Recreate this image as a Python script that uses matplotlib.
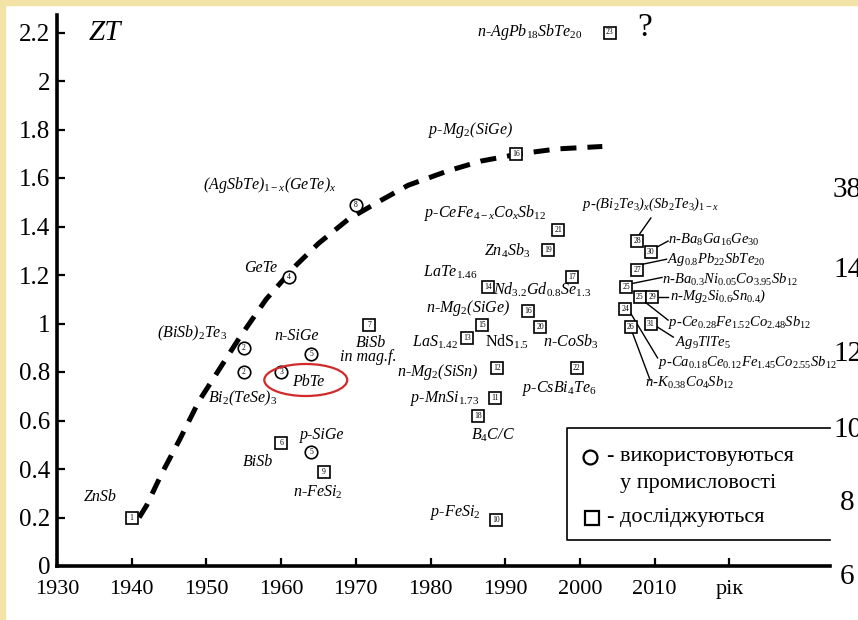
import matplotlib

matplotlib.use("Agg")
import matplotlib.pyplot as plt
from matplotlib.patches import Ellipse, Rectangle

plt.rcParams["font.family"] = ["Liberation Serif", "DejaVu Serif"]
plt.rcParams["mathtext.fontset"] = "custom"
plt.rcParams["mathtext.rm"] = "Liberation Serif"
plt.rcParams["mathtext.it"] = "Liberation Serif:italic"

# загальна тенденція ZT
CURVE_YEARS = [1941, 1942, 1944, 1946.4, 1949, 1951.7, 1954.4, 1958, 1962, 1965,
               1969, 1973.5, 1977, 1982.4, 1986.8, 1992, 1997, 2003]
CURVE_ZT = [0.2, 0.25, 0.38, 0.52, 0.68, 0.81, 0.94, 1.10, 1.24, 1.33,
            1.43, 1.51, 1.57, 1.63, 1.67, 1.70, 1.72, 1.73]

# матеріали, що використовуються у промисловості (кружки)
USED_YEARS = [1955, 1955, 1960, 1964, 1961, 1970, 1964]
USED_ZT = [0.9, 0.8, 0.8, 0.875, 1.19, 1.49, 0.47]
USED_NUM = ["2", "2", "3", "5", "4", "8", "5"]

# матеріали, що досліджуються (квадрати)
RES_YEARS = [1940, 1960, 1965.7, 1971.8, 1991.4, 2004, 1997.1, 1995.7, 1987.7, 1998.9,
             1993.1, 1986.9, 1994.7, 1984.9, 1988.9, 1999.6, 1988.6, 1986.4, 1988.8,
             2007.7, 2009.5, 2007.7, 2006.2, 2008.0, 2009.7, 2006.1, 2009.5, 2006.8]
RES_ZT = [0.2, 0.507, 0.388, 0.994, 1.70, 2.2, 1.386, 1.303, 1.15, 1.19,
          1.05, 0.994, 0.986, 0.94, 0.816, 0.816, 0.693, 0.62, 0.19,
          1.34, 1.295, 1.22, 1.15, 1.11, 1.11, 1.06, 1.00, 0.985]
RES_NUM = ["1", "6", "9", "7", "16", "23", "21", "19", "14", "17",
           "16", "15", "20", "13", "12", "22", "11", "18", "10",
           "28", "30", "27", "25", "25", "29", "24", "31", "26"]

# підписи: текст, рік, ZT, вирівнювання, курсив
LABELS = [
    ("ZnSb", 1935.8, 0.285, "center", True),
    ("(BiSb)$_2$Te$_3$", 1948.1, 0.96, "center", True),
    ("Bi$_2$(TeSe)$_3$", 1954.9, 0.69, "center", True),
    ("PbTe", 1963.6, 0.76, "center", True),
    ("n-SiGe", 1962.1, 0.95, "center", True),
    ("GeTe", 1957.2, 1.23, "center", True),
    ("(AgSbTe)$_{1-x}$(GeTe)$_x$", 1958.5, 1.57, "center", True),
    ("BiSb", 1956.9, 0.43, "center", True),
    ("p-SiGe", 1965.5, 0.54, "center", True),
    ("n-FeSi$_2$", 1964.9, 0.305, "center", True),
    ("BiSb", 1972.0, 0.92, "center", True),
    ("in mag.f.", 1971.6, 0.86, "center", True),
    ("p-Mg$_2$(SiGe)", 1985.3, 1.80, "center", True),
    ("n-AgPb$_{18}$SbTe$_{20}$", 1993.3, 2.2, "center", True),
    ("p-CeFe$_{4-x}$Co$_x$Sb$_{12}$", 1987.3, 1.456, "center", True),
    ("Zn$_4$Sb$_3$", 1990.2, 1.30, "center", True),
    ("LaTe$_{1.46}$", 1982.6, 1.21, "center", True),
    ("Nd$_{3.2}$Gd$_{0.8}$Se$_{1.3}$", 1995.0, 1.14, "center", True),
    ("n-Mg$_2$(SiGe)", 1985.0, 1.064, "center", True),
    ("LaS$_{1.42}$", 1980.6, 0.924, "center", True),
    ("NdS$_{1.5}$", 1990.2, 0.924, "center", False),
    ("n-CoSb$_3$", 1998.7, 0.924, "center", True),
    ("n-Mg$_2$(SiSn)", 1980.9, 0.80, "center", True),
    ("p-CsBi$_4$Te$_6$", 1997.3, 0.734, "center", True),
    ("p-MnSi$_{1.73}$", 1981.9, 0.69, "center", True),
    ("B$_4$C/C", 1988.4, 0.54, "center", True),
    ("p-FeSi$_2$", 1983.3, 0.22, "center", True),
]

# підписи праворуч від щільної групи квадратів
CLUSTER_LABELS = [
    ("p-(Bi$_2$Te$_3$)$_x$(Sb$_2$Te$_3$)$_{1-x}$", 2000.3, 1.49),
    ("n-Ba$_8$Ga$_{16}$Ge$_{30}$", 2011.8, 1.345),
    ("Ag$_{0.8}$Pb$_{22}$SbTe$_{20}$", 2011.7, 1.265),
    ("n-Ba$_{0.3}$Ni$_{0.05}$Co$_{3.95}$Sb$_{12}$", 2011.0, 1.18),
    ("n-Mg$_2$Si$_{0.6}$Sn$_{0.4}$)", 2012.0, 1.11),
    ("p-Ce$_{0.28}$Fe$_{1.52}$Co$_{2.48}$Sb$_{12}$", 2011.8, 1.006),
    ("Ag$_9$TlTe$_5$", 2012.7, 0.92),
    ("p-Ca$_{0.18}$Ce$_{0.12}$Fe$_{1.45}$Co$_{2.55}$Sb$_{12}$", 2010.5, 0.84),
    ("n-K$_{0.38}$Co$_4$Sb$_{12}$", 2008.7, 0.755),
]

# виноски від підписів до квадратів
LEADERS = [
    ((2009.5, 2007.9), (1.435, 1.365)),
    ((2011.8, 2010.0), (1.34, 1.31)),
    ((2011.6, 2008.5), (1.265, 1.245)),
    ((2011.0, 2007.0), (1.19, 1.165)),
    ((2010.6, 2011.8), (1.11, 1.11)),
    ((2008.7, 2011.8), (1.089, 1.014)),
    ((2010.4, 2012.5), (0.985, 0.944)),
    ((2006.7, 2010.4), (1.047, 0.858)),
    ((2006.9, 2009.4), (0.973, 0.767)),
]

X_TICKS = [1930, 1940, 1950, 1960, 1970, 1980, 1990, 2000, 2010, 2020]
X_TICK_LABELS = ["1930", "1940", "1950", "1960", "1970", "1980", "1990", "2000", "2010", "рік"]
Y_TICKS = [0, 0.2, 0.4, 0.6, 0.8, 1.0, 1.2, 1.4, 1.6, 1.8, 2.0, 2.2]
Y_TICK_LABELS = ["0", "0.2", "0.4", "0.6", "0.8", "1", "1.2", "1.4", "1.6", "1.8", "2", "2.2"]

LEGEND_LINES = ["- використовуються", "у промисловості", "- досліджуються"]

# числа з сусідньої сторінки біля правого краю
EDGE_NUMBERS = ["38", "14", "12", "10", "8", "6"]
EDGE_X_PX = [833, 833, 833, 833, 840, 840]
EDGE_Y_PX = [190, 270, 354, 430, 503, 577]

W, H = 858, 620
CREAM = "#f3e3a6"


def draw_markers(ax, xs, ys, nums, marker, size):
    ax.plot(xs, ys, linestyle="none", marker=marker, ms=size, mfc="white",
            mec="black", mew=1.2, zorder=4)
    for x, y, n in zip(xs, ys, nums):
        ax.text(x, y, n, ha="center", va="center", fontsize=5.5, zorder=5)


def main() -> None:
    fig = plt.figure(figsize=(W / 100, H / 100), dpi=100, facecolor="white")

    # жовта смуга зверху та зліва
    fig.patches.append(Rectangle((0, 1 - 5 / H), 1, 5 / H, transform=fig.transFigure,
                                 color=CREAM, zorder=0))
    fig.patches.append(Rectangle((0, 0), 5 / W, 1, transform=fig.transFigure,
                                 color=CREAM, zorder=0))

    left, right, bottom, top = 57, 830, 566, 15
    ax = fig.add_axes([left / W, (H - bottom) / H, (right - left) / W, (bottom - top) / H])
    ax.set_xlim(1930, 1930 + (right - left) / 7.47)
    ax.set_ylim(0, (bottom - top) / 242.5)
    ax.set_facecolor("none")

    for side in ("top", "right"):
        ax.spines[side].set_visible(False)
    for side in ("left", "bottom"):
        ax.spines[side].set_linewidth(2.6)

    ax.set_xticks(X_TICKS)
    ax.set_xticklabels(X_TICK_LABELS)
    ax.set_yticks(Y_TICKS)
    ax.set_yticklabels(Y_TICK_LABELS)
    ax.tick_params(axis="x", direction="in", length=6, width=1.6, pad=10, labelsize=16)
    ax.tick_params(axis="y", direction="in", length=6, width=1.6, pad=5, labelsize=18)

    ax.text(1934.2, 2.2, "ZT", fontsize=21, style="italic", va="center", ha="left")

    ax.plot(CURVE_YEARS, CURVE_ZT, color="black", lw=3.6, dashes=(3.2, 2.2),
            solid_capstyle="butt", zorder=3)

    draw_markers(ax, USED_YEARS, USED_ZT, USED_NUM, "o", 9)
    draw_markers(ax, RES_YEARS, RES_ZT, RES_NUM, "s", 8.5)

    for xs, ys in LEADERS:
        ax.plot(xs, ys, color="black", lw=1.0, zorder=3)

    for text, x, y, ha, italic in LABELS:
        ax.text(x, y, text, ha=ha, va="center", fontsize=11.5,
                style="italic" if italic else "normal", zorder=6)

    for text, x, y in CLUSTER_LABELS:
        ax.text(x, y, text, ha="left", va="center", fontsize=10.5,
                style="italic", zorder=6)

    ax.text(2008.7, 2.22, "?", fontsize=24, ha="center", va="center")

    # виділення PbTe
    ax.add_patch(Ellipse((1963.3, 0.767), 11.1, 0.132, fill=False,
                         edgecolor="#d22a2a", lw=1.6, zorder=6))

    # легенда
    box_l, box_t, box_b = 1998.3, 0.569, 0.107
    box_r = ax.get_xlim()[1]
    ax.plot([box_r, box_l, box_l, box_r], [box_t, box_t, box_b, box_b],
            color="black", lw=1.2, clip_on=False, zorder=5)
    ax.plot([2001.4], [0.45], marker="o", ms=10, mfc="white", mec="black", mew=1.6)
    ax.plot([2001.6], [0.198], marker="s", ms=10, mfc="white", mec="black", mew=1.6)
    ax.text(2003.6, 0.45, LEGEND_LINES[0], fontsize=16, va="center", ha="left")
    ax.text(2005.4, 0.342, LEGEND_LINES[1], fontsize=16, va="center", ha="left")
    ax.text(2003.6, 0.198, LEGEND_LINES[2], fontsize=16, va="center", ha="left")

    for s, xpx, ypx in zip(EDGE_NUMBERS, EDGE_X_PX, EDGE_Y_PX):
        fig.text(xpx / W, 1 - ypx / H, s, fontsize=21, va="center", ha="left")

    fig.savefig("out.png", dpi=100, facecolor=fig.get_facecolor())
    plt.close(fig)


if __name__ == "__main__":
    main()
